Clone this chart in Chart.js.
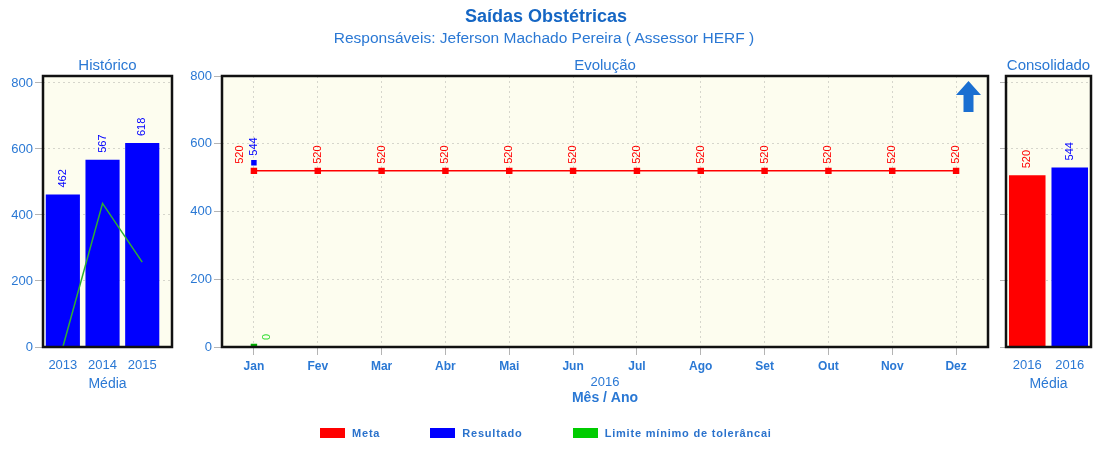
<!DOCTYPE html>
<html>
<head>
<meta charset="utf-8">
<title>Saídas Obstétricas</title>
<script src="https://cdn.jsdelivr.net/npm/chart.js"></script>
<style>
  body { margin: 0; background: #fff; font-family: "Liberation Sans", Arial, sans-serif; }
  #page { position: relative; width: 1101px; height: 451px; overflow: hidden; }
  #page canvas { position: absolute; left: 0; top: 0; }
  #title { position: absolute; top: 6px; left: 0; width: 1092px; text-align: center; font: bold 18px/20px "Liberation Sans", Arial, sans-serif; color: #1566c4; }
  #subtitle { position: absolute; top: 29px; left: 0; width: 1088px; text-align: center; font: 15.5px/18px "Liberation Sans", Arial, sans-serif; color: #2a78d4; }
  #legend { position: absolute; left: 320px; top: 426px; display: flex; align-items: center; font: bold 11px/14px "Liberation Sans", Arial, sans-serif; letter-spacing: 0.8px; color: #2a72cc; }
  #legend .item { display: flex; align-items: center; margin-right: 50px; }
  #legend .box { width: 25px; height: 10px; margin-right: 7px; }
</style>
</head>
<body>
<div id="page">
  <canvas id="hist" width="1101" height="451"></canvas>
  <canvas id="evol" width="1101" height="451"></canvas>
  <canvas id="cons" width="1101" height="451"></canvas>
  <div id="title">Saídas Obstétricas</div>
  <div id="subtitle">Responsáveis: Jeferson Machado Pereira ( Assessor HERF )</div>
  <div id="legend"></div>
</div>
<script>
  // values
  const yTicks = [0, 200, 400, 600, 800];

  const histYears = ["2013", "2014", "2015"];
  const histResultado = [462, 567, 618];
  const histLimite = [0, 435, 257];

  const months = ["Jan", "Fev", "Mar", "Abr", "Mai", "Jun", "Jul", "Ago", "Set", "Out", "Nov", "Dez"];
  const meta = [520, 520, 520, 520, 520, 520, 520, 520, 520, 520, 520, 520];
  const resultado = [544, null, null, null, null, null, null, null, null, null, null, null];
  const limite = [0, null, null, null, null, null, null, null, null, null, null, null];

  const consLabels = ["2016", "2016"];
  const consValues = [520, 544];

  const legendLabels = ["Meta", "Resultado", "Limite mínimo de tolerâncai"];

  const TEXT = "#2a78d4";
  const META = "#ff0000";
  const RESULT = "#0000ff";
  const LIMIT = "#00cc00";
  const LIMIT_LINE = "#30b030";
  const LIMIT_TEXT = "#33dd33";
  const GRID = "#d6d6cc";
  const TICK = "#b4b4b4";
  const legendColors = [META, RESULT, LIMIT];

  Chart.defaults.font.family = '"Liberation Sans", Arial, sans-serif';
  Chart.defaults.color = TEXT;
  Chart.defaults.animation = false;

  // cream plot area + thick black frame
  const frame = {
    id: "frame",
    beforeDraw(chart) {
      const { ctx, chartArea: a } = chart;
      ctx.save();
      ctx.fillStyle = "#fdfdef";
      ctx.fillRect(a.left, a.top, a.width, a.height);
      ctx.restore();
    },
    afterDraw(chart) {
      const { ctx, chartArea: a } = chart;
      ctx.save();
      ctx.strokeStyle = "#111";
      ctx.lineWidth = 2.5;
      ctx.strokeRect(a.left, a.top, a.width, a.height);
      ctx.restore();
    }
  };

  // vertical value labels above points / bars
  const valueOf = (d) => (d == null ? null : typeof d === "object" ? d.y : d);
  const valueLabels = {
    id: "valueLabels",
    afterDatasetsDraw(chart) {
      const { ctx } = chart;
      const sets = chart.data.datasets;
      const shown = sets.map((ds, i) => (ds.valueColor ? i : -1)).filter((i) => i >= 0);
      shown.forEach((i) => {
        const ds = sets[i];
        chart.getDatasetMeta(i).data.forEach((el, j) => {
          const v = valueOf(ds.data[j]);
          if (v == null) return;
          const group = shown.filter((k) => valueOf(sets[k].data[j]) != null);
          const dx = (group.indexOf(i) - (group.length - 1) / 2) * 13.5;
          const color = Array.isArray(ds.valueColor) ? ds.valueColor[j] : ds.valueColor;
          ctx.save();
          ctx.translate(el.x + dx, el.y - 7);
          ctx.rotate(-Math.PI / 2);
          ctx.fillStyle = color;
          ctx.font = '11px "Liberation Sans", Arial, sans-serif';
          ctx.textAlign = "left";
          ctx.textBaseline = "middle";
          ctx.fillText(String(v), 0, 0);
          ctx.restore();
        });
      });
    }
  };

  const arrowIcon = {
    id: "arrowIcon",
    afterDraw(chart) {
      const { ctx, chartArea: a } = chart;
      const cx = a.right - 19.5, t = a.top + 5;
      ctx.save();
      ctx.fillStyle = "#1a6fd1";
      ctx.beginPath();
      ctx.moveTo(cx, t);
      ctx.lineTo(cx + 12.5, t + 14);
      ctx.lineTo(cx + 5, t + 14);
      ctx.lineTo(cx + 5, t + 31);
      ctx.lineTo(cx - 5, t + 31);
      ctx.lineTo(cx - 5, t + 14);
      ctx.lineTo(cx - 12.5, t + 14);
      ctx.closePath();
      ctx.fill();
      ctx.restore();
    }
  };

  const yAxis = (max, width, showLabels, tickLength) => ({
    min: 0,
    max,
    afterBuildTicks: (s) => { s.ticks = yTicks.map((v) => ({ value: v })); },
    afterFit: (s) => { s.width = width; },
    ticks: { display: showLabels, padding: 2, font: { size: 13 } },
    grid: { color: GRID, tickColor: TICK, tickLength },
    border: { display: false, dash: [2, 3] }
  });

  // titles span only the plot area so they centre on it
  const panelTitle = (text) => ({
    display: true,
    text,
    fullSize: false,
    font: { size: 15, weight: "normal" },
    padding: { top: 0, bottom: 1 }
  });

  const common = (padding) => ({
    responsive: false,
    layout: { padding },
    events: []
  });

  // Histórico
  new Chart(document.getElementById("hist"), {
    type: "bar",
    data: {
      datasets: [
        {
          type: "line",
          data: histLimite.map((y, i) => ({ x: i, y })),
          borderColor: LIMIT_LINE,
          borderWidth: 1.5,
          pointRadius: 0,
          order: 0
        },
        {
          data: histResultado.map((y, i) => ({ x: i, y })),
          backgroundColor: RESULT,
          categoryPercentage: 0.86,
          barPercentage: 1,
          valueColor: RESULT,
          order: 1
        }
      ]
    },
    options: {
      ...common({ left: 0, right: 929, top: 57, bottom: 58.1 }),
      plugins: { legend: { display: false }, tooltip: { enabled: false }, title: panelTitle("Histórico") },
      scales: {
        x: {
          type: "linear",
          offset: false,
          min: -0.5,
          max: 2.75,
          afterBuildTicks: (s) => { s.ticks = histYears.map((_, i) => ({ value: i })); },
          afterFit: (s) => { s.height = 45.9; },
          ticks: { callback: (v) => histYears[v], padding: 11, autoSkip: false, maxRotation: 0, font: { size: 13 } },
          grid: { display: false, drawTicks: false, offset: false },
          border: { display: false },
          title: { display: true, text: "Média", font: { size: 14 }, padding: 0 }
        },
        y: yAxis(821, 43, true, 8)
      }
    },
    plugins: [frame, valueLabels]
  });

  // Evolução
  new Chart(document.getElementById("evol"), {
    type: "line",
    data: {
      labels: months,
      datasets: [
        {
          label: "Meta",
          data: meta,
          borderColor: META,
          backgroundColor: META,
          borderWidth: 1.5,
          pointStyle: "rect",
          pointRadius: 3.5,
          valueColor: META
        },
        {
          label: "Resultado",
          data: resultado,
          borderColor: RESULT,
          backgroundColor: RESULT,
          borderWidth: 1.5,
          pointStyle: "rect",
          pointRadius: 2.8,
          valueColor: RESULT
        },
        {
          label: "Limite mínimo de tolerâncai",
          data: limite,
          borderColor: "#00aa00",
          backgroundColor: "#00aa00",
          borderWidth: 1.5,
          pointStyle: "rect",
          pointRadius: 3.5,
          valueColor: LIMIT_TEXT
        }
      ]
    },
    options: {
      ...common({ left: 180, right: 113, top: 57, bottom: 44.3 }),
      plugins: {
        legend: { display: false },
        tooltip: { enabled: false },
        title: panelTitle("Evolução"),
        subtitle: {
          display: true,
          position: "bottom",
          fullSize: false,
          text: "Mês / Ano",
          font: { size: 14, weight: "bold" },
          padding: 0
        }
      },
      scales: {
        x: {
          offset: true,
          afterFit: (s) => { s.height = 42.9; },
          ticks: { padding: 4, autoSkip: false, maxRotation: 0, font: { size: 12, weight: "bold" } },
          grid: { color: GRID, tickColor: TICK, tickLength: 8 },
          border: { display: false, dash: [2, 3] },
          title: { display: true, text: "2016", font: { size: 13 }, padding: 0 }
        },
        y: yAxis(800, 42, true, 8)
      }
    },
    plugins: [frame, valueLabels, arrowIcon]
  });

  // Consolidado
  new Chart(document.getElementById("cons"), {
    type: "bar",
    data: {
      labels: consLabels,
      datasets: [
        {
          data: consValues,
          backgroundColor: [META, RESULT],
          categoryPercentage: 0.86,
          barPercentage: 1,
          valueColor: [META, RESULT]
        }
      ]
    },
    options: {
      ...common({ left: 990, right: 10, top: 57, bottom: 58.1 }),
      plugins: { legend: { display: false }, tooltip: { enabled: false }, title: panelTitle("Consolidado") },
      scales: {
        x: {
          afterFit: (s) => { s.height = 45.9; },
          ticks: { padding: 11, autoSkip: false, maxRotation: 0, font: { size: 13 } },
          grid: { display: false, drawTicks: false },
          border: { display: false },
          title: { display: true, text: "Média", font: { size: 14 }, padding: 0 }
        },
        y: yAxis(821, 16, false, 6)
      }
    },
    plugins: [frame, valueLabels]
  });

  // legend row
  const legend = document.getElementById("legend");
  legendLabels.forEach((label, i) => {
    const item = document.createElement("div");
    item.className = "item";
    const box = document.createElement("span");
    box.className = "box";
    box.style.background = legendColors[i];
    item.appendChild(box);
    item.appendChild(document.createTextNode(label));
    legend.appendChild(item);
  });
</script>
</body>
</html>
